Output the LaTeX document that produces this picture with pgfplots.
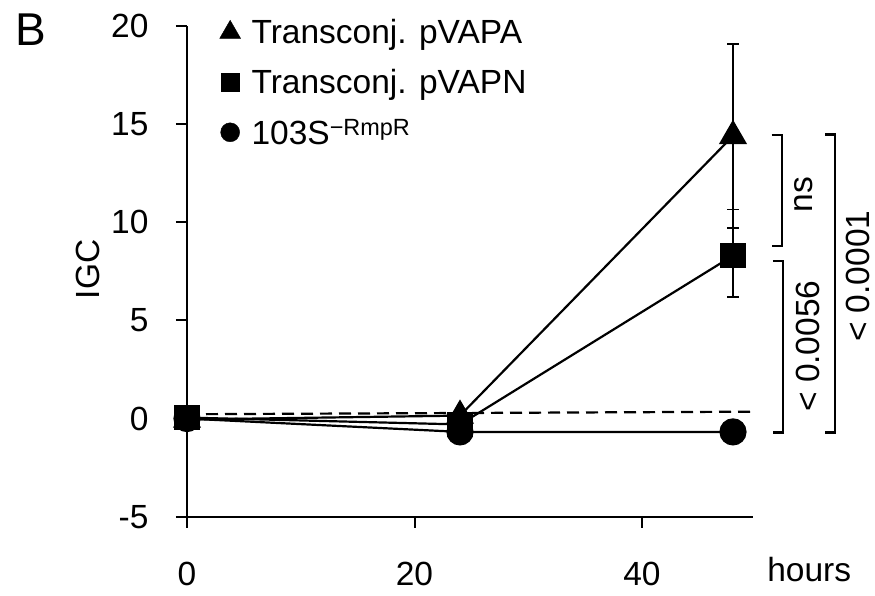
\documentclass[border=0pt]{standalone}
\usepackage{fontspec}
\setmainfont{Liberation Sans}
\usepackage{pgfplots}
\pgfplotsset{compat=1.18}
\pgfplotstableread{
x y ep em
0 -0.05 0 0
24 0.15 0 0
48 14.4 4.7 4.7
}\tA
\pgfplotstableread{
x y ep em
0 0.05 0 0
24 -0.3 0 0
48 8.3 2.35 2.1
}\tN
\pgfplotstableread{
x y
0 0
24 -0.68
48 -0.68
}\tR
\begin{document}
\begin{tikzpicture}[font=\fontsize{33.5}{40}\selectfont]
\path[use as bounding box] (0,0) rectangle (875pt,596pt);
\begin{axis}[
 at={(187pt,79.3pt)}, anchor=south west,
 scale only axis, width=565.9pt, height=490.7pt,
 xmin=0, xmax=49.75, ymin=-5, ymax=20,
 axis x line*=bottom, axis y line*=left,
 axis line style={line width=2.2pt, -},
 every tick/.style={line width=2pt, black},
 tick align=outside, major tick length=11pt,
 xtick={0,20,40}, xticklabels={0,20,40},
 ytick={-5,0,5,10,15,20}, yticklabels={-5,0,5,10,15,20},
 xticklabel style={yshift=-31pt},
 yticklabel style={xshift=-24pt},
 clip=false,
 legend style={draw=none, fill=none, at={(axis cs:2.6,20.6)}, anchor=north west,
   legend cell align=left, row sep=18pt, column sep=8pt, nodes={inner sep=3pt}},
]
\addlegendimage{only marks, mark=triangle*, mark size=12pt, mark options={fill=black, draw=black}}
\addlegendentry{Transconj. pVAPA}
\addlegendimage{only marks, mark=square*, mark size=9pt, mark options={fill=black, draw=black}}
\addlegendentry{Transconj. pVAPN}
\addlegendimage{only marks, mark=*, mark size=9.5pt, mark options={fill=black, draw=black}}
\addlegendentry{103S\textsuperscript{−RmpR}}

\addplot[forget plot, dashed, line width=2.2pt, dash pattern=on 12pt off 7pt] coordinates {(0,0.22) (49.75,0.35)};

\addplot[forget plot, line width=2.2pt, mark=*, mark size=12.5pt, mark options={solid, fill=black}] table[x=x,y=y] {\tR};

\addplot[forget plot, line width=2.2pt, mark=square*, mark size=11.5pt, mark options={solid, fill=black},
 error bars/.cd, y dir=both, y explicit,
 error bar style={line width=1.8pt}, error mark options={rotate=90, mark size=6pt, line width=1.8pt}]
 table[x=x,y=y,y error plus=ep,y error minus=em] {\tN};

\addplot[forget plot, line width=2.2pt, mark=triangle*, mark size=14pt, mark options={solid, fill=black},
 error bars/.cd, y dir=both, y explicit,
 error bar style={line width=1.8pt}, error mark options={rotate=90, mark size=6pt, line width=1.8pt}]
 table[x=x,y=y,y error plus=ep,y error minus=em] {\tA};

\draw[line width=2.2pt] (axis cs:51.4,14.45) -- (axis cs:52.3,14.45) -- (axis cs:52.3,8.78) -- (axis cs:51.4,8.78);
\node[rotate=90, inner sep=0pt] at (axis cs:54.2,11.4) {ns};
\draw[line width=2.2pt] (axis cs:51.5,8.02) -- (axis cs:52.4,8.02) -- (axis cs:52.4,-0.71) -- (axis cs:51.5,-0.71);
\node[rotate=90, inner sep=0pt] at (axis cs:54.6,3.69) {< 0.0056};
\draw[line width=2.2pt] (axis cs:56.1,14.47) -- (axis cs:57.0,14.47) -- (axis cs:57.0,-0.71) -- (axis cs:56.1,-0.71);
\node[rotate=90, inner sep=0pt] at (axis cs:59.0,7.25) {< 0.0001};

\node[font=\fontsize{46}{50}\selectfont] at (axis cs:-13.7,19.82) {B};
\node[rotate=90, inner sep=0pt] at (axis cs:-8.7,7.6) {IGC};
\node[anchor=base] at (axis cs:54.7,-8.29) {hours};
\end{axis}
\end{tikzpicture}
\end{document}
